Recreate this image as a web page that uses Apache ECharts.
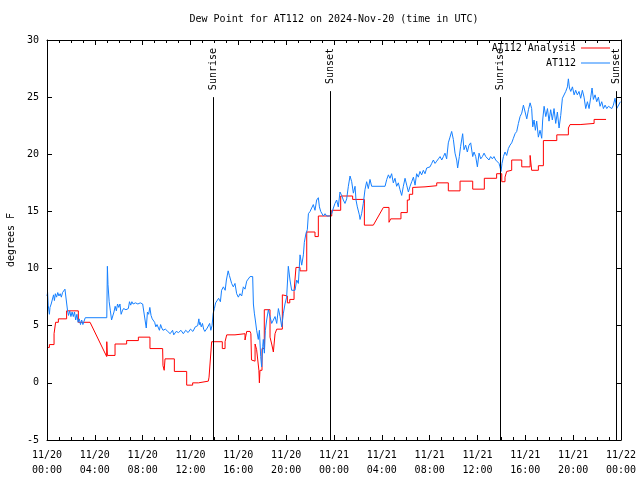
<!DOCTYPE html>
<html>
<head>
<meta charset="utf-8">
<script src="https://cdn.jsdelivr.net/npm/echarts@6/dist/echarts.min.js"></script>
<style>html,body{margin:0;padding:0;background:#fff}#c{width:640px;height:480px}</style>
</head>
<body>
<div id="c"></div>
<script>
// hours since 2024-11-20 00:00 UTC
var blueHours = [0.0,0.05,0.1,0.2,0.25,0.35,0.45,0.55,0.62,0.7,0.8,0.9,1.0,1.1,1.2,1.3,1.4,1.5,1.62,1.72,1.8,1.9,2.0,2.1,2.2,2.3,2.4,2.5,2.6,2.7,2.8,2.9,3.0,3.1,3.2,3.3,5.0,5.05,5.1,5.2,5.3,5.4,5.55,5.6,5.7,5.8,5.9,6.0,6.1,6.2,6.3,6.4,6.6,6.8,6.9,7.0,7.1,7.2,7.4,7.6,7.8,8.0,8.1,8.2,8.3,8.4,8.5,8.6,8.7,8.8,8.9,9.0,9.1,9.2,9.3,9.4,9.5,9.6,9.7,9.9,10.1,10.3,10.5,10.6,10.8,11.0,11.2,11.4,11.6,11.8,12.0,12.2,12.4,12.6,12.7,12.75,12.8,12.9,13.0,13.1,13.2,13.4,13.6,13.7,13.8,
13.9,14.0,14.1,14.2,14.35,14.5,14.6,14.75,14.9,15.0,15.15,15.25,15.36,15.44,15.58,15.72,15.86,16.0,16.14,16.28,16.42,16.56,16.7,16.84,16.98,17.12,17.2,17.26,17.34,17.42,17.53,17.67,17.76,17.87,17.95,18.04,18.09,18.18,18.26,18.37,18.51,18.65,18.79,18.93,19.07,19.21,19.35,19.49,19.63,19.77,19.9,20.04,20.18,20.27,20.32,20.46,20.6,20.74,20.88,21.02,21.16,21.3,21.44,21.52,21.66,21.77,21.86,22.0,22.14,22.27,22.41,22.55,22.69,22.78,22.89,23.0,23.11,23.25,23.39,23.61,
23.81,23.95,24.08,24.22,24.36,24.5,24.64,24.78,24.92,25.06,25.2,25.34,25.48,25.62,25.76,25.84,25.95,26.12,26.18,26.31,26.45,26.59,26.73,26.87,27.01,27.15,27.29,28.27,28.41,28.55,28.68,28.82,28.96,29.1,29.24,29.38,29.52,29.66,29.8,29.94,30.08,30.22,30.36,30.5,30.64,30.78,30.91,31.05,31.19,31.33,31.47,31.61,31.75,32.03,32.17,32.31,32.45,32.59,32.73,32.87,33.01,33.15,33.28,33.42,33.56,33.7,33.84,33.98,34.12,34.26,34.34,34.48,34.59,34.76,34.87,35.01,35.15,35.29,35.43,35.6,35.71,35.85,35.99,36.13,36.27,36.41,36.55,36.69,36.83,36.96,37.1,37.24,37.38,37.52,37.66,37.8,37.88,
37.97,38.05,38.17,38.3,38.44,38.58,38.72,38.86,39.0,39.14,39.28,39.42,39.56,39.7,39.84,39.98,40.12,40.26,40.4,40.53,40.62,40.73,40.84,40.95,41.09,41.23,41.37,41.45,41.57,41.71,41.85,41.98,42.12,42.26,42.4,42.54,42.68,42.82,42.96,43.1,43.24,43.38,43.52,43.6,43.69,43.8,43.94,44.08,44.21,44.35,44.49,44.63,44.77,44.91,45.05,45.19,45.33,45.47,45.58,45.69,45.83,45.97,46.11,46.25,46.39,46.53,46.67,46.81,46.95,47.09,47.23,47.36,47.5,47.64,47.78,47.95];
var blueDew = [7.6,7.9,6.8,6.0,6.6,6.9,6.9,7.7,7.2,7.8,7.5,7.9,7.6,7.8,7.5,7.9,7.8,8.2,8.2,6.3,5.9,6.3,5.8,6.2,5.8,6.2,5.5,6.0,5.3,5.6,5.1,5.5,5.1,5.4,5.7,5.7,5.7,10.2,8.6,7.1,6.3,5.5,5.5,6.2,6.7,6.3,6.9,6.6,6.9,6.0,6.3,6.5,6.4,6.5,7.1,6.8,7.1,6.9,7.0,6.9,7.0,6.9,6.2,5.5,4.8,6.2,6.0,6.6,5.9,5.6,5.6,5.3,4.9,5.1,5.0,4.6,5.1,4.8,4.6,4.7,4.5,4.3,4.6,4.2,4.5,4.4,4.6,4.3,4.6,4.4,4.7,4.5,4.9,5.0,5.6,5.1,5.3,4.9,5.2,4.7,4.5,4.8,5.2,4.6,5.0,
6.1,6.5,7.0,7.0,7.4,7.1,8.1,8.4,8.1,9.0,9.8,9.4,9.0,8.7,8.4,8.7,7.8,7.5,7.8,7.6,8.4,8.2,8.9,9.0,9.3,9.4,9.3,6.9,6.1,5.5,4.6,3.8,4.6,2.3,1.4,3.2,3.8,2.6,4.6,5.5,6.4,5.8,5.2,5.5,5.8,5.2,6.5,5.8,4.9,6.1,6.9,7.5,10.2,10.3,9.0,8.1,8.1,8.1,9.0,8.7,11.2,10.3,11.2,12.3,13.1,13.4,14.8,15.0,15.1,15.6,15.1,16.0,16.2,15.4,15.0,15.1,14.6,14.8,14.6,14.6,
14.8,15.3,15.7,16.0,15.4,16.7,16.4,16.0,15.7,16.1,17.2,18.1,17.6,16.6,17.2,16.0,15.4,14.7,14.3,14.8,15.7,16.9,17.6,17.0,17.8,17.2,17.2,17.2,17.8,18.2,17.9,18.3,17.5,17.9,17.2,17.5,16.9,16.4,17.2,17.9,17.3,16.7,17.2,17.6,18.0,17.3,18.3,18.0,18.5,18.2,18.6,18.3,18.8,18.9,19.2,19.5,19.2,19.4,19.6,19.8,19.5,19.8,20.1,19.6,21.0,21.5,22.0,21.3,20.1,19.5,18.8,19.8,20.7,21.8,20.4,20.8,20.2,20.8,21.0,19.8,20.2,19.8,18.9,20.1,19.6,19.8,20.1,19.8,19.9,19.5,19.8,19.6,19.8,19.5,19.4,19.2,18.9,
18.5,19.2,19.8,20.2,19.9,20.5,20.8,21.0,21.4,21.8,22.0,22.7,23.3,23.6,24.3,23.7,23.1,23.9,24.5,24.0,22.4,23.0,22.1,22.9,21.5,22.1,21.4,23.0,24.2,23.3,24.0,22.9,23.9,23.0,24.0,22.7,23.7,22.3,23.4,24.9,25.0,25.5,25.9,26.6,25.8,25.5,25.9,25.2,25.6,25.2,25.5,24.9,25.6,25.0,24.0,24.6,24.0,25.0,25.8,24.8,25.2,24.6,25.0,24.2,24.6,24.0,24.3,24.0,24.2,24.3,24.0,24.3,24.9,24.0,23.9,24.6];

var redHours = [0,0.2,0.2,0.59,0.59,0.72,0.72,0.95,0.95,1.64,1.64,2.62,2.62,3.6,4.99,5.0,5.05,5.69,5.69,6.66,6.66,7.64,7.64,8.61,8.61,9.67,9.7,9.8,9.87,10.65,10.65,11.68,11.68,12.18,12.18,12.66,12.66,13.49,13.55,13.69,13.77,14.66,14.66,14.89,14.89,15.03,15.03,15.72,15.72,16.56,16.56,16.7,16.7,16.98,17.05,17.1,17.26,17.26,17.4,17.4,17.53,17.53,17.67,17.72,17.76,17.81,17.98,17.98,18.17,18.17,18.65,18.65,18.79,18.79,18.93,18.93,19.07,19.07,19.21,19.21,19.68,19.68,19.78,19.78,20.1,20.1,20.3,20.3,20.66,20.66,20.82,20.82,21.16,21.16,21.72,21.72,22.41,22.41,22.69,22.69,23.81,23.81,24.56,24.56,25.56,25.56,26.54,26.54,27.29,28.13,28.6,28.6,28.74,28.74,29.6,29.6,30.13,30.13,30.3,30.3,30.58,30.58,30.69,30.69,31.61,31.61,32.59,32.59,33.56,33.56,34.54,34.54,35.6,35.6,36.57,36.57,37.6,37.6,38.03,38.03,38.3,38.3,38.44,38.44,38.58,38.58,38.86,38.86,39.7,39.7,40.4,40.4,40.53,40.53,41.09,41.09,41.51,41.51,42.63,42.63,43.6,43.6,43.74,43.74,44.58,44.58,45.75,45.75,46.75];
var redDew = [3.1,3.1,3.35,3.35,4.3,4.3,5.3,5.3,5.6,5.6,6.3,6.3,5.3,5.3,2.3,3.6,2.4,2.4,3.4,3.4,3.7,3.7,4.0,4.0,3.0,3.0,1.5,1.1,2.1,2.1,1.0,1.0,-0.2,-0.2,0.0,0.0,0.15,0.15,0.5,0.5,3.6,3.6,3.0,3.0,3.6,3.6,4.2,4.2,4.3,4.3,3.75,3.75,4.5,4.5,4.3,2.0,2.0,1.9,1.9,3.4,3.4,2.9,2.9,1.1,0.0,1.1,1.1,3.0,3.0,6.4,6.4,4.0,4.0,3.4,3.4,2.7,2.7,4.3,4.3,4.7,4.7,7.7,7.7,7.6,7.6,7.0,7.0,7.3,7.3,8.0,8.0,10.1,10.1,9.8,9.8,13.2,13.2,12.8,12.8,14.6,14.6,15.1,15.1,16.35,16.35,16.05,16.05,13.8,13.8,15.35,15.35,14.05,14.05,14.35,14.35,14.9,14.9,16.0,16.0,16.5,16.5,17.1,17.1,17.15,17.15,17.25,17.25,17.5,17.5,16.8,16.8,17.65,17.65,16.95,16.95,17.9,17.9,18.3,18.3,17.6,17.6,18.0,18.0,18.5,18.5,18.6,18.6,19.5,19.5,18.9,18.9,19.9,19.9,18.6,18.6,19.0,19.0,21.2,21.2,21.7,21.7,22.3,22.3,22.6,22.6,22.7,22.7,23.05,23.05];

var sunEventHours = [13.9, 23.67, 37.88, 47.58];
var sunEventNames = ['Sunrise', 'Sunset', 'Sunrise', 'Sunset'];
var xTickLabels = ['11/20\n00:00','11/20\n04:00','11/20\n08:00','11/20\n12:00','11/20\n16:00','11/20\n20:00','11/21\n00:00','11/21\n04:00','11/21\n08:00','11/21\n12:00','11/21\n16:00','11/21\n20:00','11/22\n00:00'];
var seriesNames = ['AT112 Analysis', 'AT112'];
var titleText = 'Dew Point for AT112 on 2024-Nov-20 (time in UTC)';
var yAxisTitle = 'degrees F';

var FONT = 'DejaVu Sans Mono';
function pairs(xs, ys) { return xs.map(function (x, i) { return [x, ys[i]]; }); }

var sunLines = sunEventHours.map(function (h, i) {
  return [{ coord: [h, -5], name: sunEventNames[i] }, { coord: [h, 30] }];
});

function axisBase() {
  return {
    axisLine: { show: true, onZero: false, lineStyle: { color: '#000', width: 1 } },
    axisTick: { show: true, inside: true, length: 5, lineStyle: { color: '#000' } },
    splitLine: { show: false },
    z: 10
  };
}

var chart = echarts.init(document.getElementById('c'), null, { renderer: 'canvas' });
chart.setOption({
  animation: false,
  backgroundColor: '#fff',
  title: {
    text: titleText, left: 334, top: 14, textAlign: 'center', padding: 0,
    textStyle: { fontFamily: FONT, fontSize: 10, fontWeight: 'normal', color: '#000' }
  },
  legend: {
    orient: 'vertical', right: 30, top: 43, padding: 0, align: 'right', z: 20,
    icon: 'rect', itemWidth: 29, itemHeight: 1, itemGap: 5,
    data: seriesNames,
    textStyle: { fontFamily: FONT, fontSize: 10, color: '#000' }
  },
  grid: { left: 47, right: 19, top: 40, bottom: 40, show: false, containLabel: false, outerBoundsMode: 'none' },
  xAxis: [
    Object.assign(axisBase(), {
      type: 'value', min: 0, max: 48, interval: 4, position: 'bottom',
      minorTick: { show: true, splitNumber: 4, length: 3, lineStyle: { color: '#000' } },
      axisLabel: {
        fontFamily: FONT, fontSize: 10, color: '#000', lineHeight: 15, margin: 8,
        formatter: function (v) { return xTickLabels[Math.round(v / 4)] || ''; }
      }
    }),
    Object.assign(axisBase(), {
      type: 'value', min: 0, max: 48, interval: 4, position: 'top',
      minorTick: { show: true, splitNumber: 4, length: 3, lineStyle: { color: '#000' } },
      axisLabel: { show: false }
    })
  ],
  yAxis: [
    Object.assign(axisBase(), {
      type: 'value', min: -5, max: 30, interval: 5, position: 'left',
      name: yAxisTitle, nameLocation: 'middle', nameGap: 31,
      nameTextStyle: { fontFamily: FONT, fontSize: 10, color: '#000' },
      axisLabel: { fontFamily: FONT, fontSize: 10, color: '#000', margin: 8 }
    }),
    Object.assign(axisBase(), {
      type: 'value', min: -5, max: 30, interval: 5, position: 'right',
      axisLabel: { show: false }
    })
  ],
  series: [
    {
      name: seriesNames[0], type: 'line', symbol: 'none', showSymbol: false,
      xAxisIndex: 0, yAxisIndex: 0,
      data: pairs(redHours, redDew),
      lineStyle: { color: '#ff0000', width: 1 }, itemStyle: { color: '#ff0000' },
      markLine: {
        silent: true, symbol: ['none', 'none'],
        lineStyle: { color: '#000', width: 1, type: 'solid' },
        label: {
          show: true, position: 'insideEnd', distance: 1,
          formatter: function (p) { return p.name; },
          fontFamily: FONT, fontSize: 10, color: '#000',
          backgroundColor: '#fff', padding: [0, 7, 0, 7]
        },
        data: sunLines
      },
      z: 2
    },
    {
      name: seriesNames[1], type: 'line', symbol: 'none', showSymbol: false,
      xAxisIndex: 0, yAxisIndex: 0,
      data: pairs(blueHours, blueDew),
      lineStyle: { color: '#1580ff', width: 1 }, itemStyle: { color: '#1580ff' },
      z: 3
    }
  ]
});
</script>
</body>
</html>
